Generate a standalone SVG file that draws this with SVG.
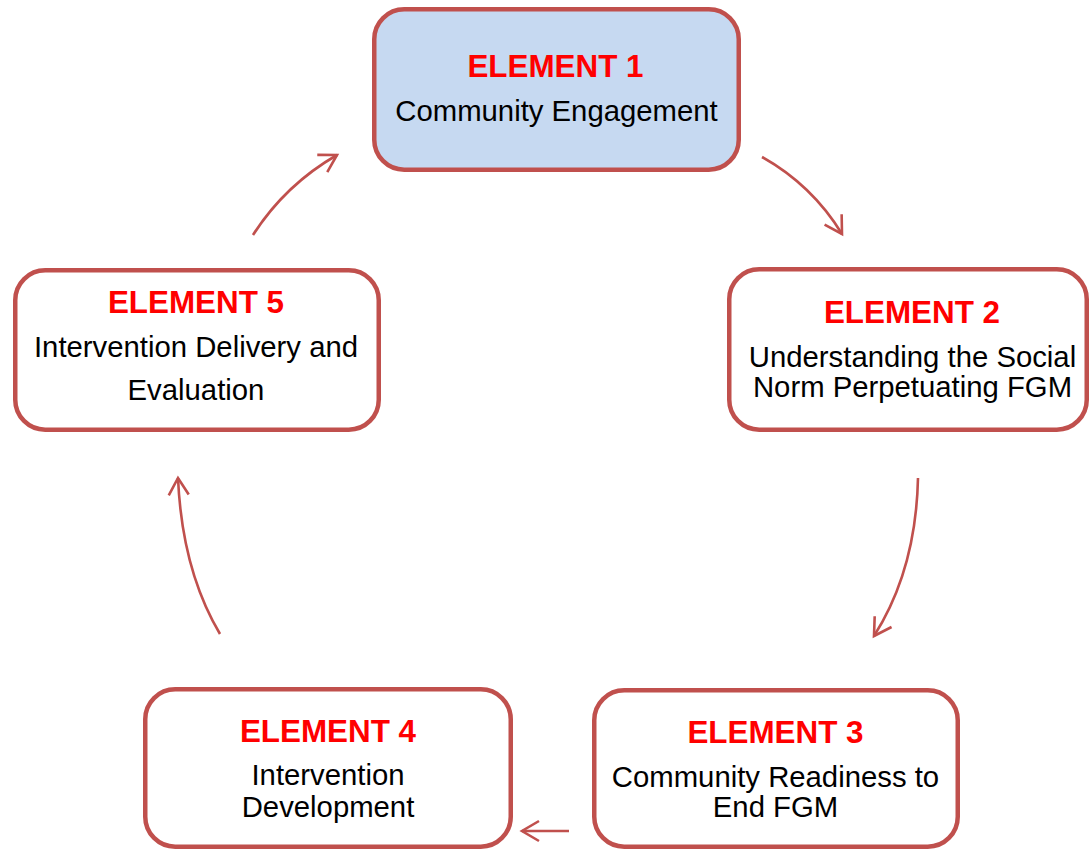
<svg xmlns="http://www.w3.org/2000/svg" width="1090" height="850" viewBox="0 0 1090 850">
<style>
.box{fill:#ffffff;stroke:#C0504D;stroke-width:4.5}
.hl{fill:#C6D9F1}
.t{font-family:"Liberation Sans",Arial,sans-serif;text-anchor:middle}
.h{font-size:31.4px;font-weight:bold;fill:#FF0000}
.b{font-size:29.3px;fill:#000000}
.c{fill:none;stroke:#C0504D;stroke-width:2.6}
</style>
<defs>
<marker id="ah" markerUnits="userSpaceOnUse" viewBox="-20 -12 24 24" refX="0" refY="0" markerWidth="24" markerHeight="24" orient="auto">
<path d="M -17,-10 L 0,0 L -17,10" fill="none" stroke="#C0504D" stroke-width="2.6"/>
</marker>
</defs>
<rect width="1090" height="850" fill="#ffffff"/>
<g id="element1">
<rect class="box hl" x="374.25" y="9.25" width="364.5" height="160.5" rx="30"/>
<text class="t h" x="555.5" y="77">ELEMENT 1</text>
<text class="t b" x="556.5" y="121">Community Engagement</text>
</g>
<g id="element2">
<rect class="box" x="729.25" y="269.25" width="357.5" height="160.5" rx="30"/>
<text class="t h" x="912" y="323">ELEMENT 2</text>
<text class="t b" x="912.5" y="367">Understanding the Social</text>
<text class="t b" x="912.5" y="397">Norm Perpetuating FGM</text>
</g>
<g id="element3">
<rect class="box" x="594.25" y="690.25" width="363.5" height="156.5" rx="30"/>
<text class="t h" x="775.5" y="743">ELEMENT 3</text>
<text class="t b" x="775.5" y="787">Community Readiness to</text>
<text class="t b" x="775.5" y="817">End FGM</text>
</g>
<g id="element4">
<rect class="box" x="145.25" y="689.25" width="365.5" height="157.5" rx="30"/>
<text class="t h" x="328" y="742">ELEMENT 4</text>
<text class="t b" x="328" y="785">Intervention</text>
<text class="t b" x="328" y="817">Development</text>
</g>
<g id="element5">
<rect class="box" x="15.25" y="270.25" width="363.5" height="159.5" rx="30"/>
<text class="t h" x="196" y="313">ELEMENT 5</text>
<text class="t b" x="196" y="357">Intervention Delivery and</text>
<text class="t b" x="196" y="400">Evaluation</text>
</g>
<g id="connectors">
<path class="c" d="M 762,157 Q 812,185 842,234" marker-end="url(#ah)"/>
<path class="c" d="M 918,478 Q 916,570 874,636" marker-end="url(#ah)"/>
<path class="c" d="M 569,831 L 522,831" marker-end="url(#ah)"/>
<path class="c" d="M 220,634 Q 182,570 178,478" marker-end="url(#ah)"/>
<path class="c" d="M 253,235 Q 285,185 337,155" marker-end="url(#ah)"/>
</g>
</svg>
